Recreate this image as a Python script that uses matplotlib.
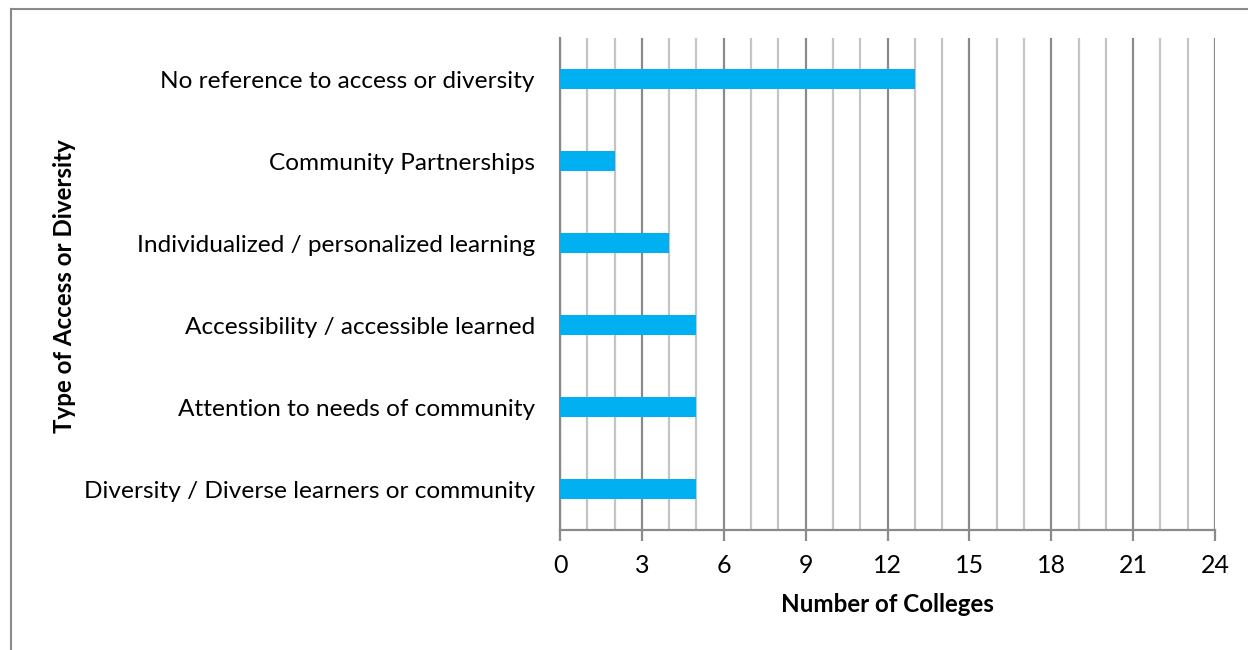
import matplotlib
matplotlib.use("Agg")
import matplotlib.pyplot as plt
from matplotlib.lines import Line2D

categories = [
    "Diversity / Diverse learners or community",
    "Attention to needs of community",
    "Accessibility / accessible learned",
    "Individualized / personalized learning",
    "Community Partnerships",
    "No reference to access or diversity",
]
counts = [5, 5, 5, 4, 2, 13]
x_major = [0, 3, 6, 9, 12, 15, 18, 21, 24]
x_minor = list(range(0, 25))

plt.rcParams["font.family"] = ["Lato", "DejaVu Sans"]

W, H = 1248, 650
fig = plt.figure(figsize=(W / 100, H / 100), dpi=100)
ax = fig.add_axes([560 / W, 1 - 530 / H, (1215 - 560) / W, (530 - 38) / H])

ypos = list(range(len(categories)))
ax.barh(ypos, counts, height=0.25, color="#00b0f0", zorder=3)

ax.set_xlim(0, 24)
ax.set_ylim(-0.5, len(categories) - 0.5)

# gridlines: light at every unit, darker at labelled ticks
for v in x_minor:
    major = v in x_major
    ax.axvline(v, color="#8a8a8a" if major else "#c4c4c4", lw=1.6, zorder=1)

ax.set_xticks(x_major)
ax.set_xticklabels([str(v) for v in x_major], fontsize=18)
ax.set_yticks(ypos)
ax.set_yticklabels(categories, fontsize=17.6)
ax.tick_params(axis="x", length=8, width=1.6, color="#8a8a8a", pad=9)
ax.tick_params(axis="y", length=0, pad=18)

for s in ("top", "right"):
    ax.spines[s].set_visible(False)
ax.spines["left"].set_color("#8a8a8a")
ax.spines["left"].set_linewidth(1.6)
ax.spines["bottom"].set_color("#8a8a8a")
ax.spines["bottom"].set_linewidth(1.6)

ax.set_xlabel("Number of Colleges", fontsize=17.4, fontweight="bold", labelpad=12)
fig.text(65 / W, 1 - 286 / H, "Type of Access or Diversity", rotation=90,
         fontsize=17.4, fontweight="bold", ha="center", va="center")

# outer frame (top and left edges)
fig.add_artist(Line2D([10.5 / W, 10.5 / W], [0, 1 - 8.5 / H], transform=fig.transFigure,
                      color="#8a8a8a", lw=1.5))
fig.add_artist(Line2D([10.5 / W, 1], [1 - 8.5 / H, 1 - 8.5 / H], transform=fig.transFigure,
                      color="#8a8a8a", lw=1.5))

fig.savefig("out.png", dpi=100, facecolor="white")
